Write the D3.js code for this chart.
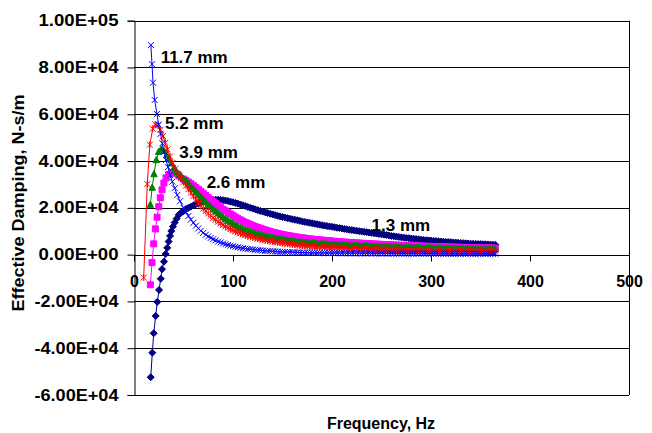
<!DOCTYPE html>
<html>
<head>
<meta charset="utf-8">
<script src="https://cdn.jsdelivr.net/npm/d3@7"></script>
<style>
  body { margin: 0; background: #fff; }
  text { font-family: "Liberation Sans", Arial, sans-serif; font-weight: bold; }
</style>
</head>
<body>
<div id="chart"></div>
<script>
// frequency grid shared by the tail of every curve (Hz)
const tailHz = [50,52.5,55,57.5,60,62.5,65,67.5,70,72.5,75,77.5,80,82.5,85,87.5,90,92.5,95,97.5,
  100,102.5,105,107.5,110,112.5,115,117.5,120,122.5,125,127.5,130,132.5,135,137.5,140,142.5,145,147.5,
  150,152.5,155,157.5,160,162.5,165,167.5,170,172.5,175,177.5,180,182.5,185,187.5,190,192.5,195,197.5,
  200,202.5,205,207.5,210,212.5,215,217.5,220,222.5,225,227.5,230,232.5,235,237.5,240,242.5,245,247.5,
  250,252.5,255,257.5,260,262.5,265,267.5,270,272.5,275,277.5,280,282.5,285,287.5,290,292.5,295,297.5,
  300,302.5,305,307.5,310,312.5,315,317.5,320,322.5,325,327.5,330,332.5,335,337.5,340,342.5,345,347.5,
  350,352.5,355,357.5,360,362.5,365];

// 1.3 mm
const gap13LowHz  = [16.9,18.5,19.9,21.9,23.5,25.3,27,28.3,30.3,32,33.6,35,36.4,37.7,39.4,41.1,43.1,45.2,47.5];
const gap13LowVal = [-52400,-41900,-33600,-26200,-20200,-15100,-10300,-6200,-3000,300,2900,5600,8000,10100,12000,13700,15400,17000,17900];
const gap13Tail = [18700,19400,20000,20500,21000,21500,21900,22300,22600,22900,23100,23300,23400,23450,23500,23400,23300,23100,22900,22650,
  22400,22100,21800,21450,21100,20750,20400,20050,19700,19350,19000,18700,18400,18100,17800,17500,17200,16900,16600,16350,
  16100,15850,15600,15350,15100,14900,14700,14450,14200,14000,13800,13600,13400,13200,13000,12800,12600,12400,12200,12050,
  11900,11700,11500,11350,11200,11000,10800,10650,10500,10350,10200,10050,9900,9750,9600,9450,9300,9150,9000,8850,
  8700,8550,8400,8200,8000,7850,7700,7550,7400,7270,7150,7020,6900,6770,6650,6520,6400,6300,6200,6100,
  6000,5900,5800,5700,5600,5520,5450,5370,5300,5220,5150,5070,5000,4920,4850,4770,4700,4650,4600,4550,
  4500,4450,4400,4350,4300,4250,4200];

// 2.6 mm
const gap26LowHz  = [16.5,18.2,19.9,21.6,23.3,25,26.6,28.3,30.2,32.4,35,38.5,42,45.5];
const gap26LowVal = [-12900,-3400,4600,11000,16000,20500,24300,27700,30600,32800,34300,35000,34800,33700];
const gap26Tail = [32300,31700,31000,30300,29500,28700,27900,27050,26200,25300,24400,23550,22700,21850,21000,20200,19400,18700,18000,17350,
  16700,16050,15400,14850,14300,13800,13300,12850,12400,12000,11600,11250,10900,10550,10200,9900,9600,9350,9100,8850,
  8600,8400,8200,8000,7850,7650,7500,7350,7200,7050,6900,6770,6650,6520,6400,6300,6200,6100,6000,5900,
  5800,5700,5600,5520,5450,5370,5300,5220,5150,5070,5000,4930,4870,4800,4740,4680,4620,4560,4500,4440,
  4390,4330,4280,4230,4180,4130,4080,4030,3990,3940,3900,3850,3810,3770,3730,3690,3650,3610,3570,3530,
  3500,3460,3430,3390,3360,3330,3300,3270,3240,3210,3180,3150,3120,3090,3070,3040,3020,2990,2970,2940,
  2920,2890,2870,2850,2830,2810,2790];

// 3.9 mm
const gap39LowHz  = [16.5,18.4,20.2,22.5,24.9,27.6,30.3,33,35.4,37.7,40.4,43,45.7,48];
const gap39LowVal = [21400,28700,34500,40500,44000,45200,44400,42600,40900,39100,37200,35500,34200,33200];
const gap39Tail = [32500,31400,30300,29150,28000,26850,25700,24600,23500,22450,21400,20450,19500,18600,17700,16850,16000,15300,14600,13950,
  13300,12700,12100,11600,11100,10650,10200,9850,9500,9150,8800,8500,8200,7950,7700,7450,7200,7000,6800,6600,
  6400,6250,6100,5950,5800,5670,5550,5420,5300,5200,5100,5000,4900,4820,4750,4670,4600,4530,4460,4400,
  4340,4280,4230,4180,4130,4080,4030,3980,3940,3890,3850,3800,3760,3720,3680,3640,3600,3560,3520,3480,
  3450,3410,3380,3340,3310,3280,3250,3220,3190,3160,3130,3100,3070,3040,3010,2980,2960,2930,2910,2880,
  2860,2830,2810,2780,2760,2740,2720,2700,2680,2660,2640,2620,2600,2580,2560,2540,2520,2500,2490,2470,
  2460,2440,2430,2410,2400,2380,2370];

// 5.2 mm
const gap52LowHz  = [9.8,13.4,16,18.9,21.5,24.2,26.8,29.3,31.6,33.9,36.4,39,41.7,44.5,47.3];
const gap52LowVal = [-9800,30200,47000,53800,55700,55200,53300,50700,47800,45000,42000,39200,36700,34500,32700];
const gap52Tail = [31000,29500,28000,26500,25000,23600,22200,20950,19700,18650,17600,16650,15700,14900,14100,13400,12700,12100,11500,10950,
  10400,9950,9500,9100,8700,8350,8000,7700,7400,7150,6900,6650,6400,6200,6000,5800,5600,5450,5300,5150,
  5000,4850,4700,4550,4400,4270,4150,4020,3900,3800,3700,3600,3500,3420,3350,3270,3200,3120,3050,2970,
  2900,2850,2800,2750,2700,2650,2600,2550,2500,2450,2400,2360,2330,2290,2260,2230,2200,2170,2140,2110,
  2080,2050,2020,1990,1970,1940,1920,1890,1870,1850,1830,1810,1790,1770,1750,1730,1710,1690,1680,1660,
  1650,1630,1620,1600,1590,1570,1560,1540,1530,1510,1500,1490,1480,1470,1460,1450,1440,1430,1420,1410,
  1400,1390,1380,1370,1360,1350,1340];

// 11.7 mm
const gap117LowHz  = [17,18.2,19.2,20.9,23.2,24.9,26.8,28.6,30.3,32.3,34.3,36.4,38.7,41.1,43.7,46.5];
const gap117LowVal = [89600,81400,73500,66100,60100,55600,51600,47600,44000,40500,37400,34100,31200,28400,25500,22800];
const gap117Tail = [20000,18150,16500,15000,13600,12350,11200,10200,9300,8500,7800,7150,6600,6100,5600,5200,4800,4450,4150,3850,
  3600,3350,3150,2950,2750,2600,2450,2320,2200,2070,1950,1850,1750,1660,1570,1490,1420,1350,1290,1230,
  1180,1130,1090,1050,1010,970,940,910,880,850,830,810,790,770,750,735,720,705,690,675,
  660,650,640,630,620,610,600,592,585,577,570,562,555,547,540,535,530,525,520,515,
  510,505,500,495,490,485,480,476,472,468,464,460,456,452,448,444,441,437,434,430,
  427,423,420,417,414,411,408,405,402,399,396,393,390,387,385,382,380,377,375,372,
  370,367,365,362,360,357,355];

const seriesNames = ["1.3 mm", "2.6 mm", "3.9 mm", "5.2 mm", "11.7 mm"];
const seriesColors = ["#000080", "#ff00ff", "#008000", "#ff0000", "#0000ff"];
const seriesMarkers = ["diamond", "square", "triangle", "star", "cross"];
// label anchor (Hz, N-s/m) for each curve name
const labelHz = [240, 73.4, 45.8, 31.3, 26.9];
const labelVal = [10300, 28400, 41300, 53700, 81900];

const yTicks = [-60000,-40000,-20000,0,20000,40000,60000,80000,100000];
const xTicks = [0,100,200,300,400,500];

const width = 652, height = 433;
const margin = {left: 134, right: 23, top: 20.7, bottom: 38};

function build(lowHz, lowVal, tail) {
  const pts = lowHz.map((f, i) => ({f: f, v: lowVal[i]}));
  tailHz.forEach((f, i) => pts.push({f: f, v: tail[i]}));
  return pts;
}

const series = [
  build(gap13LowHz, gap13LowVal, gap13Tail),
  build(gap26LowHz, gap26LowVal, gap26Tail),
  build(gap39LowHz, gap39LowVal, gap39Tail),
  build(gap52LowHz, gap52LowVal, gap52Tail),
  build(gap117LowHz, gap117LowVal, gap117Tail)
];

const svg = d3.select("#chart").append("svg")
  .attr("width", width)
  .attr("height", height);

svg.append("rect").attr("width", width).attr("height", height).attr("fill", "#fff");

const x = d3.scaleLinear().domain([0, 500]).range([margin.left, width - margin.right]);
const y = d3.scaleLinear().domain([-60000, 100000]).range([height - margin.bottom, margin.top]);

const sci = v => {
  let s = v.toExponential(2).toUpperCase();
  return s.replace(/E([+-])(\d)$/, "E$10$2");
};

// gridlines
svg.append("g")
  .selectAll("line")
  .data(yTicks)
  .enter().append("line")
    .attr("x1", x(0)).attr("x2", x(500))
    .attr("y1", d => Math.round(y(d)) + 0.5)
    .attr("y2", d => Math.round(y(d)) + 0.5)
    .attr("stroke", "#000")
    .attr("stroke-width", 1);

// right border of plot area
svg.append("line")
  .attr("x1", Math.round(x(500)) + 0.5).attr("x2", Math.round(x(500)) + 0.5)
  .attr("y1", y(100000)).attr("y2", y(-60000))
  .attr("stroke", "#000");

// y axis
const yAxis = svg.append("g")
  .attr("transform", `translate(${Math.round(x(0)) + 0.5},0)`)
  .call(d3.axisLeft(y).tickValues(yTicks).tickFormat(sci).tickSize(7).tickPadding(9));
yAxis.select(".domain").attr("stroke", "#000");
yAxis.selectAll("text").attr("font-size", 16).attr("fill", "#000")
  .attr("font-family", '"Liberation Sans", Arial, sans-serif').attr("font-weight", "bold")
  .attr("textLength", d => d < 0 ? 84 : 80)
  .attr("lengthAdjust", "spacingAndGlyphs");

// x axis on the zero line
const xAxis = svg.append("g")
  .attr("transform", `translate(0,${Math.round(y(0)) + 0.5})`)
  .call(d3.axisBottom(x).tickValues(xTicks).tickSize(6).tickPadding(14));
xAxis.select(".domain").remove();
xAxis.selectAll("text").attr("font-size", 16).attr("fill", "#000")
  .attr("font-family", '"Liberation Sans", Arial, sans-serif').attr("font-weight", "bold");

// curves
const line = d3.line().x(d => x(d.f)).y(d => y(d.v));

function markerPath(kind) {
  if (kind === "diamond") return "M0,-3.5L3.5,0L0,3.5L-3.5,0Z";
  if (kind === "square") return "M-3,-3H3V3H-3Z";
  if (kind === "triangle") return "M0,-3.5L3.2,2.8L-3.2,2.8Z";
  if (kind === "star") return "M-3,-3L3,3M-3,3L3,-3M0,-3.5V3.5";
  return "M-3,-3L3,3M-3,3L3,-3";
}

series.forEach((pts, i) => {
  const g = svg.append("g").attr("class", "series");
  g.append("path")
    .datum(pts)
    .attr("d", line)
    .attr("fill", "none")
    .attr("stroke", seriesColors[i])
    .attr("stroke-width", 1);
  const kind = seriesMarkers[i];
  const filled = kind === "diamond" || kind === "square" || kind === "triangle";
  g.selectAll("path.m")
    .data(pts)
    .enter().append("path")
      .attr("class", "m")
      .attr("transform", d => `translate(${x(d.f)},${y(d.v)})`)
      .attr("d", markerPath(kind))
      .attr("fill", filled ? seriesColors[i] : "none")
      .attr("stroke", seriesColors[i])
      .attr("stroke-width", 1);
});

// curve labels
svg.append("g")
  .selectAll("text")
  .data(seriesNames)
  .enter().append("text")
    .attr("x", (d, i) => x(labelHz[i]))
    .attr("y", (d, i) => y(labelVal[i]))
    .attr("font-size", 17)
    .attr("fill", "#000")
    .text(d => d);

// axis titles
svg.append("text")
  .attr("x", 381)
  .attr("y", 429)
  .attr("text-anchor", "middle")
  .attr("font-size", 16)
  .text("Frequency, Hz");

svg.append("text")
  .attr("transform", "translate(24,203) rotate(-90)")
  .attr("text-anchor", "middle")
  .attr("font-size", 16)
  .attr("textLength", 217)
  .attr("lengthAdjust", "spacingAndGlyphs")
  .text("Effective Damping, N-s/m");
</script>
</body>
</html>
